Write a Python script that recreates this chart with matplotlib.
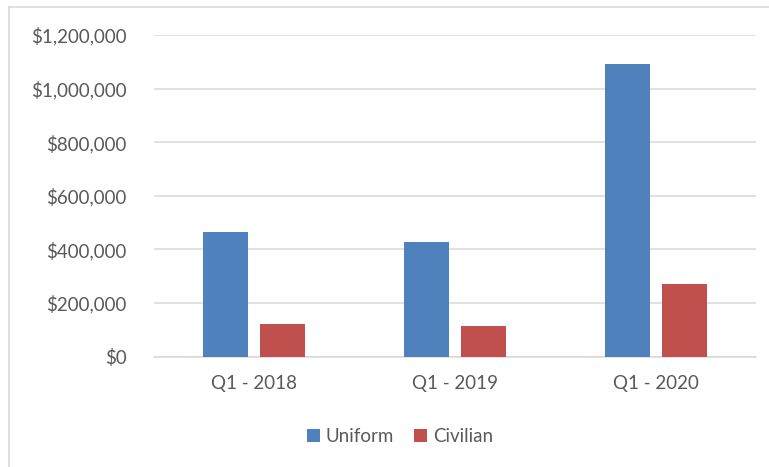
import matplotlib
matplotlib.use("Agg")
import matplotlib.pyplot as plt
from matplotlib.ticker import FuncFormatter
from matplotlib.lines import Line2D
import numpy as np

quarters = ["Q1 - 2018", "Q1 - 2019", "Q1 - 2020"]
uniform = [464000, 427000, 1093000]
civilian = [122500, 113000, 272000]

plt.rcParams["font.family"] = ["Lato", "DejaVu Sans"]
text_color = "#595959"
grid_color = "#D9D9D9"

fig = plt.figure(figsize=(7.69, 4.67), dpi=100)
ax = fig.add_axes([154 / 769, 1 - 356.5 / 467, (756 - 154) / 769, (356.5 - 35) / 467])

x = np.arange(len(quarters))
w = 0.224
ax.bar(x - 0.142, uniform, w, color="#4F81BD", label="Uniform", zorder=3)
ax.bar(x + 0.142, civilian, w, color="#C0504D", label="Civilian", zorder=3)

ax.set_xlim(-0.5, 2.5)
ax.set_ylim(0, 1200000)
ax.set_yticks(np.arange(0, 1200001, 200000))
ax.yaxis.set_major_formatter(FuncFormatter(lambda v, p: "${:,.0f}".format(v)))
ax.set_xticks(x)
ax.set_xticklabels(quarters)

ax.grid(axis="y", color=grid_color, linewidth=1.1, zorder=0)
for s in ["top", "right", "left"]:
    ax.spines[s].set_visible(False)
ax.spines["bottom"].set_color(grid_color)
ax.spines["bottom"].set_linewidth(1.1)
ax.tick_params(axis="y", length=0, pad=19.5, labelsize=13.5, labelcolor=text_color)
ax.tick_params(axis="x", length=0, pad=13.5, labelsize=13.5, labelcolor=text_color)

fig.legend(loc="center", bbox_to_anchor=(400 / 769, 1 - 436.5 / 467), ncol=2,
           frameon=False, fontsize=13.5, labelcolor=text_color,
           handlelength=0.7, handleheight=0.7, handletextpad=0.3,
           columnspacing=1.05)

# chart area border (left and top edges)
fig.add_artist(Line2D([9 / 769, 9 / 769], [0, 1 - 7 / 467], transform=fig.transFigure,
                      color=grid_color, linewidth=1.2))
fig.add_artist(Line2D([9 / 769, 1], [1 - 7 / 467, 1 - 7 / 467], transform=fig.transFigure,
                      color=grid_color, linewidth=1.2))

fig.savefig("out.png", dpi=100, facecolor="white")
